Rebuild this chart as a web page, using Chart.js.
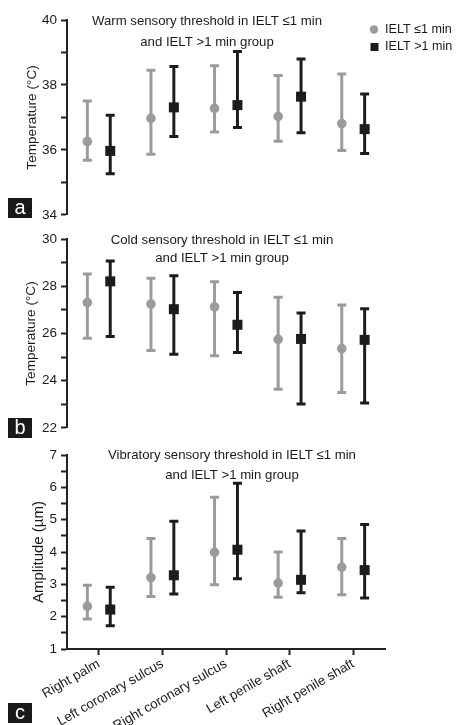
<!DOCTYPE html>
<html>
<head>
<meta charset="utf-8">
<script src="https://cdn.jsdelivr.net/npm/chart.js@4.4.1/dist/chart.umd.min.js"></script>
<style>
  html, body { margin: 0; padding: 0; background: #fff; }
  body { width: 457px; height: 725px; position: relative; overflow: hidden; }
  canvas { position: absolute; left: 0; }
</style>
</head>
<body>
<canvas id="ca" width="457" height="227" style="top:0px"></canvas>
<canvas id="cb" width="457" height="213" style="top:227px"></canvas>
<canvas id="cc" width="457" height="285" style="top:440px"></canvas>
<script>
// ---------- data ----------
const categories = ['Right palm', 'Left coronary sulcus', 'Right coronary sulcus', 'Left penile shaft', 'Right penile shaft'];
const seriesNames = ['IELT \u22641 min', 'IELT >1 min'];

const warmLeMean = [36.26, 36.97, 37.28, 37.03, 36.81];
const warmLeLow  = [35.68, 35.87, 36.55, 36.27, 35.98];
const warmLeHigh = [37.51, 38.45, 38.59, 38.29, 38.34];
const warmGtMean = [35.97, 37.31, 37.38, 37.64, 36.64];
const warmGtLow  = [35.27, 36.41, 36.69, 36.53, 35.89];
const warmGtHigh = [37.07, 38.57, 39.03, 38.80, 37.72];

const coldLeMean = [27.31, 27.25, 27.13, 25.75, 25.36];
const coldLeLow  = [25.80, 25.28, 25.06, 23.64, 23.50];
const coldLeHigh = [28.52, 28.34, 28.19, 27.54, 27.21];
const coldGtMean = [28.21, 27.03, 26.37, 25.77, 25.73];
const coldGtLow  = [25.87, 25.12, 25.20, 23.01, 23.06];
const coldGtHigh = [29.07, 28.45, 27.74, 26.87, 27.05];

const vibLeMean = [2.32, 3.21, 3.99, 3.04, 3.53];
const vibLeLow  = [1.93, 2.62, 2.99, 2.60, 2.68];
const vibLeHigh = [2.97, 4.42, 5.69, 4.00, 4.42];
const vibGtMean = [2.22, 3.28, 4.07, 3.14, 3.44];
const vibGtLow  = [1.72, 2.70, 3.17, 2.74, 2.58];
const vibGtHigh = [2.91, 4.95, 6.13, 4.65, 4.85];

const warmTitle = ['Warm sensory threshold in IELT \u22641 min', 'and IELT >1 min group'];
const coldTitle = ['Cold sensory threshold in IELT \u22641 min', 'and IELT >1 min group'];
const vibTitle  = ['Vibratory sensory threshold in IELT \u22641 min', 'and IELT >1 min group'];
const tempAxisTitle = 'Temperature (\u00b0C)';
const ampAxisTitle = 'Amplitude (\u00b5m)';

// ---------- styling ----------
const FONT = '"Liberation Sans", Arial, Helvetica, sans-serif';
const GRAY = '#9b9b9b';
const BLACK = '#1c1c1c';
const AXIS = '#222222';
const TXT = '#1a1a1a';

const errPlugin = {
  id: 'errbars',
  afterDatasetsDraw(chart) {
    const ctx = chart.ctx, ys = chart.scales.y;
    chart.data.datasets.forEach((ds, di) => {
      const meta = chart.getDatasetMeta(di);
      meta.data.forEach((el, i) => {
        const x = el.x;
        const lo = ds.data[i][0], hi = ds.data[i][1];
        const yl = ys.getPixelForValue(lo), yh = ys.getPixelForValue(hi), ym = ys.getPixelForValue(ds.means[i]);
        ctx.save();
        ctx.strokeStyle = ds.backgroundColor;
        ctx.lineWidth = 3;
        ctx.beginPath();
        ctx.moveTo(x - 4.5, yh); ctx.lineTo(x + 4.5, yh);
        ctx.moveTo(x - 4.5, yl); ctx.lineTo(x + 4.5, yl);
        ctx.stroke();
        ctx.fillStyle = ds.backgroundColor;
        if (ds.marker === 'circle') {
          ctx.beginPath(); ctx.arc(x, ym, 4.8, 0, Math.PI * 2); ctx.fill();
        } else {
          ctx.fillRect(x - 5, ym - 5, 10, 10);
        }
        ctx.restore();
      });
    });
  }
};

const textPlugin = {
  id: 'panelText',
  afterDraw(chart, args, o) {
    const ctx = chart.ctx;
    ctx.save();
    ctx.fillStyle = TXT;
    ctx.font = '13.2px ' + FONT;
    ctx.textAlign = 'center';
    ctx.textBaseline = 'middle';
    o.title.forEach((t, k) => ctx.fillText(t, o.titleX, o.titleY[k]));
    // panel letter
    ctx.fillStyle = '#1a1a1a';
    ctx.fillRect(8, o.letterY, 24, 20);
    ctx.fillStyle = '#ffffff';
    ctx.font = '20px ' + FONT;
    ctx.fillText(o.letter, 20, o.letterY + 10.5);
    if (o.legend) {
      ctx.textAlign = 'left';
      ctx.font = '12.6px ' + FONT;
      ctx.fillStyle = GRAY;
      ctx.beginPath(); ctx.arc(374, 29.5, 4.2, 0, Math.PI * 2); ctx.fill();
      ctx.fillStyle = BLACK;
      ctx.fillRect(370.5, 43, 8, 8);
      ctx.fillStyle = TXT;
      ctx.fillText(seriesNames[0], 385, 30);
      ctx.fillText(seriesNames[1], 385, 47);
    }
    ctx.restore();
  }
};

function yAxis(min, max, step, labelEvery, title, titleSize, titlePad) {
  return {
    min: min, max: max,
    ticks: {
      stepSize: step, autoSkip: false, color: TXT, padding: 4,
      font: { size: 13.5, family: FONT },
      callback: v => (Math.abs(v / labelEvery - Math.round(v / labelEvery)) < 1e-6 ? String(v) : '')
    },
    grid: { drawOnChartArea: false, drawTicks: true, tickLength: 6, tickWidth: 2, tickColor: AXIS },
    border: { display: true, color: AXIS, width: 2 },
    title: { display: true, text: title, color: TXT, font: { size: titleSize, family: FONT }, padding: { top: titlePad, bottom: 0 } },
    afterFit(s) { s.width = 67; }
  };
}

function xAxis(show) {
  if (!show) return { display: false, offset: true };
  return {
    offset: true,
    grid: { offset: false, drawOnChartArea: false, drawTicks: true, tickLength: 6, tickWidth: 2, tickColor: AXIS },
    border: { display: true, color: AXIS, width: 2 },
    ticks: { autoSkip: false, minRotation: 30, maxRotation: 30, color: TXT, padding: 1, font: { size: 13.4, family: FONT } },
    afterFit(s) { s.height = 76; }
  };
}

function makeChart(id, le, gt, yopt, showX, padding, text) {
  const ds = (name, m, lo, hi, color, marker) => ({
    label: name,
    data: lo.map((l, i) => [l, hi[i]]),
    means: m,
    marker: marker,
    backgroundColor: color,
    borderWidth: 0,
    categoryPercentage: 0.72,
    barPercentage: 0.13
  });
  return new Chart(document.getElementById(id), {
    type: 'bar',
    data: {
      labels: categories,
      datasets: [
        ds(seriesNames[0], le[0], le[1], le[2], GRAY, 'circle'),
        ds(seriesNames[1], gt[0], gt[1], gt[2], BLACK, 'square')
      ]
    },
    options: {
      responsive: false,
      animation: false,
      devicePixelRatio: 1,
      layout: { padding: padding },
      scales: { x: xAxis(showX), y: yopt },
      plugins: { legend: { display: false }, tooltip: { enabled: false }, panelText: text }
    },
    plugins: [errPlugin, textPlugin]
  });
}

makeChart('ca', [warmLeMean, warmLeLow, warmLeHigh], [warmGtMean, warmGtLow, warmGtHigh],
  yAxis(34, 40, 1, 2, tempAxisTitle, 13.6, 24), false,
  { top: 20, bottom: 10, left: 0, right: 72 },
  { title: warmTitle, titleX: 207, titleY: [21, 42], letter: 'a', letterY: 198, legend: true });

makeChart('cb', [coldLeMean, coldLeLow, coldLeHigh], [coldGtMean, coldGtLow, coldGtHigh],
  yAxis(22, 30, 1, 2, tempAxisTitle, 13.6, 23), false,
  { top: 10, bottom: 8, left: 0, right: 72 },
  { title: coldTitle, titleX: 222, titleY: [13, 31], letter: 'b', letterY: 191, legend: false });

makeChart('cc', [vibLeMean, vibLeLow, vibLeHigh], [vibGtMean, vibGtLow, vibGtHigh],
  yAxis(1, 7, 0.5, 1, ampAxisTitle, 15, 30), true,
  { top: 15, bottom: 0, left: 0, right: 72 },
  { title: vibTitle, titleX: 232, titleY: [15, 35], letter: 'c', letterY: 263, legend: false });
</script>
</body>
</html>
